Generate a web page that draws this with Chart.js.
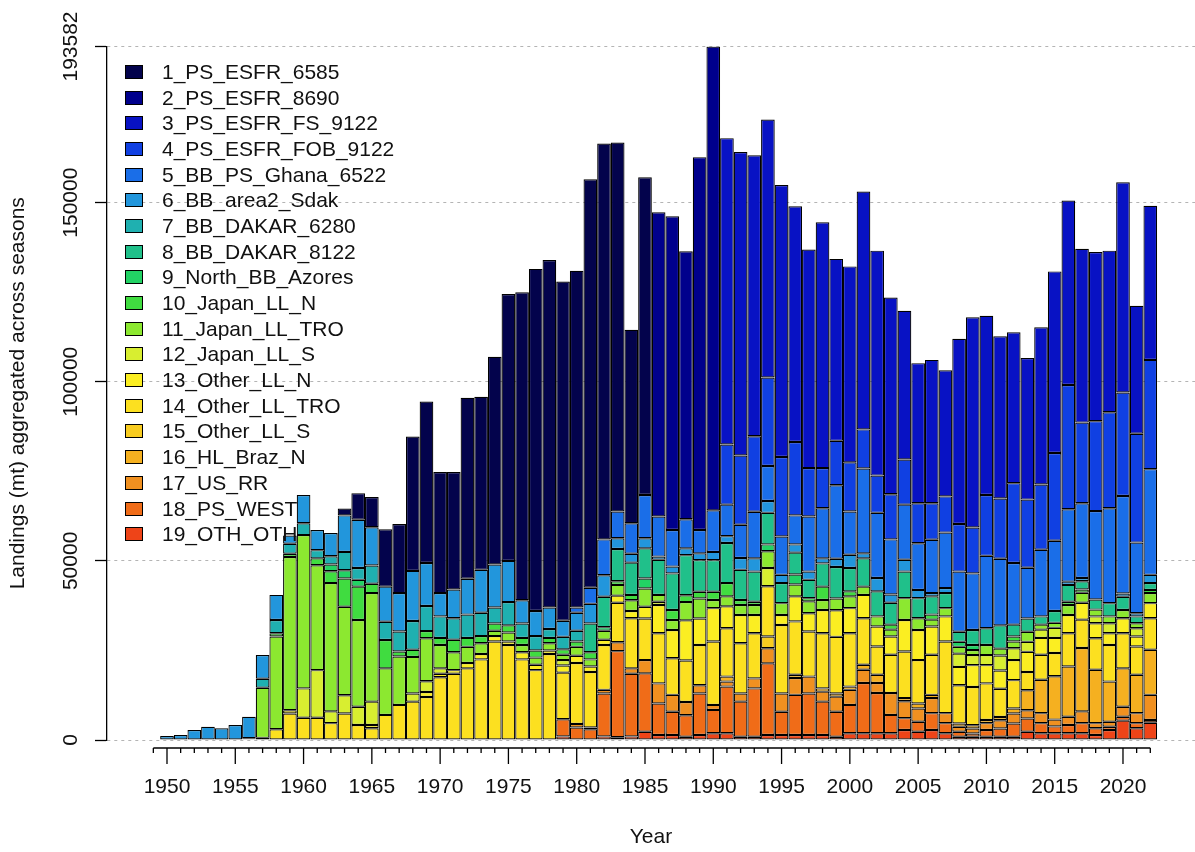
<!DOCTYPE html>
<html>
<head>
<meta charset="utf-8">
<script src="https://cdn.jsdelivr.net/npm/chart.js@4"></script>
<style>
  body { margin: 0; background: #fff; }
  #wrap { position: relative; width: 1195px; height: 852px; }
  #legend { position: absolute; left: 125px; top: 59px; font: 21px "Liberation Sans", Arial, sans-serif; color: #111; }
  .item { height: 25.7px; display: flex; align-items: center; white-space: nowrap; }
  .box { width: 16px; height: 12px; border: 1px solid #000; margin-right: 19px; }
</style>
</head>
<body>
<div id="wrap"><canvas id="chart"></canvas><div id="legend"></div></div>
<script>
const years = [1949,
  1950, 1951, 1952, 1953, 1954, 1955, 1956, 1957, 1958, 1959,
  1960, 1961, 1962, 1963, 1964, 1965, 1966, 1967, 1968, 1969,
  1970, 1971, 1972, 1973, 1974, 1975, 1976, 1977, 1978, 1979,
  1980, 1981, 1982, 1983, 1984, 1985, 1986, 1987, 1988, 1989,
  1990, 1991, 1992, 1993, 1994, 1995, 1996, 1997, 1998, 1999,
  2000, 2001, 2002, 2003, 2004, 2005, 2006, 2007, 2008, 2009,
  2010, 2011, 2012, 2013, 2014, 2015, 2016, 2017, 2018, 2019,
  2020, 2021, 2022];
const tickYears = [1950, 1955, 1960, 1965, 1970, 1975, 1980, 1985, 1990, 1995, 2000, 2005, 2010, 2015, 2020];
const yTicks = [0, 50000, 100000, 150000, 193582];

const seriesNames = ["1_PS_ESFR_6585", "2_PS_ESFR_8690", "3_PS_ESFR_FS_9122", "4_PS_ESFR_FOB_9122",
  "5_BB_PS_Ghana_6522", "6_BB_area2_Sdak", "7_BB_DAKAR_6280", "8_BB_DAKAR_8122", "9_North_BB_Azores",
  "10_Japan_LL_N", "11_Japan_LL_TRO", "12_Japan_LL_S", "13_Other_LL_N", "14_Other_LL_TRO",
  "15_Other_LL_S", "16_HL_Braz_N", "17_US_RR", "18_PS_WEST", "19_OTH_OTH"];
const seriesColors = ["#03034c", "#00008c", "#0812c4", "#1040e2", "#1a6ee8", "#2296dc", "#1fb0b0",
  "#20c08a", "#22d264", "#40dc40", "#8ce830", "#d8ee30", "#fbee22", "#fce020", "#f8cc20",
  "#f5b020", "#f09020", "#f06c18", "#ee4418"];

// one value per year, 1949 first, then decades 1950s ... 2020s
const s1 = [0,
  0, 0, 0, 0, 0, 0, 0, 0, 0, 0,
  0, 0, 0, 1900, 7400, 8400, 16000, 19300, 37500, 45100,
  33800, 32800, 50500, 48300, 58000, 74500, 86000, 95500, 97000, 94700,
  94000, 114000, 110500, 103000, 54000, 88700, 0, 0, 0, 0,
  0, 0, 0, 0, 0, 0, 0, 0, 0, 0,
  0, 0, 0, 0, 0, 0, 0, 0, 0, 0,
  0, 0, 0, 0, 0, 0, 0, 0, 0, 0,
  0, 0, 0];
const s2 = [0,
  0, 0, 0, 0, 0, 0, 0, 0, 0, 0,
  0, 0, 0, 0, 0, 0, 0, 0, 0, 0,
  0, 0, 0, 0, 0, 0, 0, 0, 0, 0,
  0, 0, 0, 0, 0, 0, 84900, 87600, 74800, 104100,
  129482, 0, 0, 0, 0, 0, 0, 0, 0, 0,
  0, 0, 0, 0, 0, 0, 0, 0, 0, 0,
  0, 0, 0, 0, 0, 0, 0, 0, 0, 0,
  0, 0, 0];
const s3 = [0,
  0, 0, 0, 0, 0, 0, 0, 0, 0, 0,
  0, 0, 0, 0, 0, 0, 0, 0, 0, 0,
  0, 0, 0, 0, 0, 0, 0, 0, 0, 0,
  0, 0, 0, 0, 0, 0, 0, 0, 0, 0,
  0, 85500, 84700, 78400, 72000, 75900, 65800, 61000, 68600, 50800,
  54700, 66400, 62800, 54900, 41500, 39100, 40000, 35200, 51700, 58700,
  50000, 45300, 42100, 39500, 43900, 50700, 51500, 48500, 47200, 45100,
  58700, 35700, 43000];
const s4 = [0,
  0, 0, 0, 0, 0, 0, 0, 0, 0, 0,
  0, 0, 0, 0, 0, 0, 0, 0, 0, 0,
  0, 0, 0, 0, 0, 0, 0, 0, 0, 0,
  0, 0, 0, 0, 0, 0, 0, 0, 0, 0,
  0, 16800, 19300, 21100, 24700, 22200, 20500, 13500, 11200, 12400,
  13700, 10900, 10400, 12600, 12600, 11200, 10200, 10100, 13300, 12800,
  17000, 16800, 22300, 19000, 18200, 24500, 34700, 22500, 25100, 26800,
  28900, 30400, 30500];
const s5 = [0,
  0, 0, 0, 0, 0, 0, 0, 0, 0, 0,
  0, 0, 0, 0, 0, 0, 0, 0, 0, 0,
  0, 0, 0, 0, 0, 0, 0, 0, 0, 0,
  1500, 4500, 10000, 7500, 8500, 12100, 11200, 10200, 8100, 6500,
  11600, 8800, 9300, 13000, 9800, 10700, 8100, 15400, 14000, 20500,
  12100, 23700, 18200, 15400, 15400, 13000, 14900, 15500, 16800, 15800,
  20200, 18600, 17200, 14200, 18600, 19600, 20200, 20900, 24700, 26500,
  27200, 19700, 29500];
const s6 = [150,
  1100, 1400, 2800, 3700, 3300, 4200, 6000, 6600, 7000, 2300,
  7900, 5600, 6500, 10200, 13500, 10700, 9800, 10700, 14000, 12000,
  6500, 8000, 10000, 12000, 12000, 11500, 6500, 7000, 6000, 4500,
  5000, 5500, 6000, 3000, 2500, 2800, 900, 1900, 1900, 1900,
  2300, 1900, 3300, 3700, 3300, 2300, 2300, 2300, 1400, 2300,
  3700, 1400, 3700, 2300, 3300, 2300, 900, 1400, 0, 0,
  0, 0, 0, 0, 0, 0, 900, 900, 0, 0,
  900, 900, 2300];
const s7 = [0,
  0, 0, 0, 0, 0, 0, 0, 2500, 3700, 2800,
  3300, 2300, 2300, 5100, 3300, 5100, 5100, 5600, 8000, 7000,
  6000, 6000, 6500, 6500, 4500, 6500, 4000, 4000, 2500, 3500,
  3000, 0, 0, 0, 0, 0, 0, 0, 0, 0,
  0, 0, 0, 0, 0, 0, 0, 0, 0, 0,
  0, 0, 0, 0, 0, 0, 0, 0, 0, 0,
  0, 0, 0, 0, 0, 0, 0, 0, 0, 0,
  0, 0, 0];
const s8 = [0,
  0, 0, 0, 0, 0, 0, 0, 0, 0, 0,
  0, 0, 0, 0, 0, 0, 0, 0, 0, 0,
  0, 0, 0, 0, 0, 0, 0, 0, 0, 0,
  0, 8000, 8500, 9000, 9000, 8400, 9800, 10200, 11200, 8800,
  8800, 11200, 8400, 8400, 8800, 5600, 6100, 5100, 6500, 8800,
  6500, 7900, 7000, 6100, 7400, 5600, 5100, 4200, 2800, 4200,
  4700, 6500, 3300, 3700, 2300, 3300, 4700, 2300, 2800, 3700,
  3700, 1900, 1900];
const s9 = [0,
  0, 0, 0, 0, 0, 0, 0, 0, 0, 0,
  0, 0, 1900, 2300, 1900, 0, 0, 0, 0, 0,
  0, 0, 0, 0, 0, 0, 0, 0, 0, 0,
  0, 0, 1000, 0, 0, 2800, 0, 0, 0, 0,
  0, 0, 0, 0, 1900, 0, 2800, 0, 0, 0,
  0, 0, 0, 0, 0, 0, 0, 0, 1400, 1400,
  0, 0, 0, 0, 0, 0, 0, 0, 0, 0,
  0, 0, 0];
const s10 = [0,
  0, 0, 0, 0, 0, 0, 0, 0, 900, 900,
  0, 1900, 3300, 7900, 9300, 2600, 7900, 1400, 2000, 2000,
  2000, 3500, 2500, 2000, 2000, 2000, 2000, 2000, 1500, 1500,
  1500, 2000, 0, 1000, 1500, 0, 0, 2800, 1900, 1900,
  2300, 3700, 1400, 900, 0, 0, 0, 900, 3700, 0,
  1400, 0, 0, 1400, 0, 0, 1400, 0, 0, 0,
  0, 0, 1400, 0, 0, 0, 900, 900, 0, 0,
  0, 0, 900];
const s11 = [0,
  0, 0, 0, 0, 0, 0, 300, 14000, 25900, 42800,
  42800, 29300, 35800, 24700, 24200, 30300, 13000, 13500, 10200, 12000,
  6500, 5000, 4500, 3000, 1500, 2500, 2000, 2000, 2000, 1500,
  2500, 2000, 2500, 3000, 3000, 5100, 1900, 2800, 5100, 5600,
  2300, 2800, 2800, 2800, 4700, 3300, 3300, 3300, 2800, 3300,
  3300, 2300, 2800, 1900, 6100, 3300, 1900, 2300, 1900, 1400,
  2800, 1900, 1900, 2800, 1400, 1400, 2800, 2800, 1900, 1900,
  2300, 1400, 2800];
const s12 = [0,
  0, 0, 0, 0, 0, 0, 0, 0, 0, 0,
  8200, 13300, 3300, 5100, 5100, 6500, 0, 0, 2300, 3000,
  1500, 0, 0, 0, 0, 0, 0, 0, 0, 1500,
  0, 0, 0, 0, 0, 0, 900, 0, 0, 0,
  0, 0, 0, 0, 5100, 0, 0, 0, 0, 0,
  0, 0, 0, 0, 0, 0, 0, 0, 3700, 2800,
  2800, 4200, 3300, 2800, 2300, 2800, 0, 0, 1900, 2800,
  0, 2300, 0];
const s13 = [0,
  0, 0, 0, 0, 0, 0, 0, 0, 0, 900,
  0, 0, 0, 0, 0, 900, 0, 0, 0, 1400,
  1000, 1000, 1500, 1500, 1500, 1000, 2000, 1500, 1000, 2000,
  2000, 1500, 1500, 2000, 2000, 3300, 7900, 7900, 11200, 7400,
  9300, 6100, 7900, 5100, 0, 2800, 7000, 5100, 6500, 7400,
  7000, 6500, 5600, 5100, 8800, 8400, 7900, 7000, 5100, 6100,
  5100, 5100, 5600, 5600, 4700, 4200, 5100, 4700, 4200, 3300,
  4200, 2800, 4200];
const s14 = [0,
  0, 0, 0, 0, 0, 0, 200, 600, 3000, 7400,
  6200, 6200, 4700, 7400, 4200, 3300, 7000, 9800, 10700, 12000,
  17500, 18500, 20000, 22500, 27500, 26500, 22500, 19500, 24000, 13000,
  17000, 15500, 12500, 11000, 14000, 11600, 14000, 10200, 11600, 11200,
  17700, 13500, 14000, 12600, 14000, 19100, 14900, 12600, 15400, 15800,
  14900, 13000, 7900, 10700, 13000, 12100, 11200, 20000, 10700, 10700,
  10200, 7900, 7900, 5100, 7000, 6500, 9300, 7900, 8800, 10200,
  9800, 7900, 8800];
const s15 = [0,
  0, 0, 0, 0, 0, 0, 0, 0, 0, 0,
  0, 0, 0, 0, 0, 0, 0, 0, 0, 0,
  0, 0, 0, 0, 0, 0, 0, 0, 0, 0,
  0, 0, 0, 0, 0, 0, 0, 0, 0, 0,
  0, 0, 0, 0, 3300, 0, 0, 0, 0, 0,
  0, 0, 0, 0, 0, 0, 0, 0, 0, 0,
  0, 0, 0, 0, 0, 0, 0, 0, 0, 0,
  0, 0, 0];
const s16 = [0,
  0, 0, 0, 0, 0, 0, 0, 0, 0, 0,
  0, 0, 0, 0, 0, 0, 0, 0, 0, 0,
  0, 0, 0, 0, 0, 0, 0, 0, 0, 0,
  0, 0, 0, 0, 0, 0, 0, 0, 0, 0,
  0, 1400, 0, 0, 0, 0, 900, 0, 900, 900,
  900, 1400, 2300, 0, 900, 1400, 900, 0, 900, 900,
  900, 900, 1400, 5600, 9300, 12100, 14000, 17700, 14900, 11200,
  10700, 10700, 12600];
const s17 = [0,
  0, 0, 0, 0, 0, 0, 0, 0, 0, 0,
  0, 0, 0, 0, 0, 0, 0, 0, 0, 0,
  0, 0, 0, 0, 0, 0, 0, 0, 0, 0,
  1000, 500, 1000, 2500, 1500, 3700, 5600, 4700, 3700, 2300,
  1400, 1400, 2300, 2800, 4200, 5100, 4700, 4700, 2800, 4200,
  4200, 3700, 2800, 6100, 4700, 3700, 4200, 2800, 1400, 1400,
  1900, 2300, 2800, 2300, 2800, 1900, 2300, 3300, 1400, 1400,
  2800, 2800, 7000];
const s18 = [0,
  0, 0, 0, 0, 0, 0, 0, 0, 0, 0,
  0, 0, 0, 0, 0, 0, 0, 0, 0, 0,
  0, 0, 0, 0, 0, 0, 0, 0, 0, 4800,
  3500, 3000, 12000, 24000, 17500, 16300, 8800, 6500, 6000, 11600,
  6500, 13000, 9800, 13500, 20000, 6500, 11200, 11600, 9300, 7000,
  7900, 14000, 11200, 5100, 3300, 2800, 4700, 2800, 1400, 900,
  1900, 2300, 3700, 3700, 2800, 1900, 2300, 2800, 1900, 900,
  1100, 1400, 800];
const s19 = [0,
  0, 0, 0, 0, 0, 0, 0, 0, 0, 0,
  0, 0, 0, 0, 0, 0, 0, 0, 0, 0,
  0, 0, 0, 0, 0, 0, 0, 0, 0, 1000,
  0, 0, 1000, 800, 1000, 2300, 1400, 1400, 900, 1400,
  1900, 1900, 900, 900, 1400, 1400, 1400, 1400, 1400, 900,
  1900, 1900, 1900, 1900, 2800, 2300, 2800, 1900, 900, 900,
  900, 900, 900, 2300, 1900, 1900, 1900, 1900, 1400, 2800,
  5400, 3300, 4800];

const seriesData = [s1, s2, s3, s4, s5, s6, s7, s8, s9, s10, s11, s12, s13, s14, s15, s16, s17, s18, s19];

const fontFamily = '"Liberation Sans", Arial, sans-serif';

// bottom of the stack is the last series, as in the original plot
const datasets = [];
for (let i = seriesData.length - 1; i >= 0; i--) {
  datasets.push({
    label: seriesNames[i],
    data: years.map((yr, j) => ({ x: yr, y: seriesData[i][j] || null })),
    backgroundColor: seriesColors[i],
    borderColor: "#000",
    borderWidth: 1.2,
    borderSkipped: false,
    inflateAmount: 0,
    barPercentage: 1,
    categoryPercentage: 1,
  });
}

// R style x axis line with yearly minor ticks, rotated y labels
const rAxes = {
  id: "rAxes",
  afterDraw(chart) {
    const { ctx, chartArea } = chart;
    const xs = chart.scales.x;
    const ys = chart.scales.y;
    ctx.save();
    ctx.strokeStyle = "#000";
    ctx.lineWidth = 1.3;
    const yLine = chartArea.bottom + 8;
    ctx.beginPath();
    ctx.moveTo(xs.getPixelForValue(years[0]), yLine);
    ctx.lineTo(xs.getPixelForValue(years[years.length - 1]), yLine);
    years.forEach((yr) => {
      const px = xs.getPixelForValue(yr);
      ctx.moveTo(px, yLine);
      ctx.lineTo(px, yLine + (tickYears.includes(yr) ? 16 : 5));
    });
    ctx.stroke();

    ctx.fillStyle = "#111";
    ctx.font = "21px " + fontFamily;
    ctx.textAlign = "center";
    ctx.textBaseline = "middle";
    yTicks.forEach((v) => {
      ctx.save();
      ctx.translate(71, ys.getPixelForValue(v));
      ctx.rotate(-Math.PI / 2);
      ctx.fillText(String(v), 0, 0);
      ctx.restore();
    });
    ctx.restore();
  },
};

const legend = document.getElementById("legend");
seriesNames.forEach((name, i) => {
  const row = document.createElement("div");
  row.className = "item";
  const box = document.createElement("span");
  box.className = "box";
  box.style.background = seriesColors[i];
  row.appendChild(box);
  row.appendChild(document.createTextNode(name));
  legend.appendChild(row);
});

new Chart(document.getElementById("chart"), {
  type: "bar",
  data: { datasets },
  plugins: [rAxes],
  options: {
    responsive: true,
    maintainAspectRatio: false,
    devicePixelRatio: 1,
    animation: false,
    layout: { padding: { top: 46.5, left: 0, right: 0, bottom: 0 } },
    plugins: { legend: { display: false }, tooltip: { enabled: false } },
    scales: {
      x: {
        type: "linear",
        stacked: true,
        offset: false,
        min: 1945.607,
        max: 2025.273,
        afterBuildTicks: (axis) => { axis.ticks = tickYears.map((v) => ({ value: v })); },
        afterFit: (axis) => { axis.height = 112; },
        grid: { display: false, drawTicks: false },
        border: { display: false },
        ticks: {
          autoSkip: false,
          maxRotation: 0,
          padding: 35,
          color: "#111",
          font: { size: 21, family: fontFamily },
          callback: (v) => String(v),
        },
        title: {
          display: true,
          text: "Year",
          color: "#111",
          font: { size: 21, family: fontFamily },
          padding: { top: 0, bottom: 2 },
        },
      },
      y: {
        type: "linear",
        stacked: true,
        min: 0,
        max: 193582,
        z: 1,
        afterBuildTicks: (axis) => { axis.ticks = yTicks.map((v) => ({ value: v })); },
        afterFit: (axis) => { axis.width = 107; },
        ticks: { display: false },
        grid: {
          color: "#b4b4b4",
          lineWidth: 1,
          tickColor: "#000",
          tickLength: 12,
          tickWidth: 1.3,
          tickBorderDash: [],
        },
        border: { display: true, color: "#000", width: 1.3, dash: [3, 4] },
        title: {
          display: true,
          text: "Landings (mt) aggregated across seasons",
          color: "#111",
          font: { size: 21, family: fontFamily },
          padding: { top: 6, bottom: 0 },
        },
      },
    },
  },
});
</script>
</body>
</html>
